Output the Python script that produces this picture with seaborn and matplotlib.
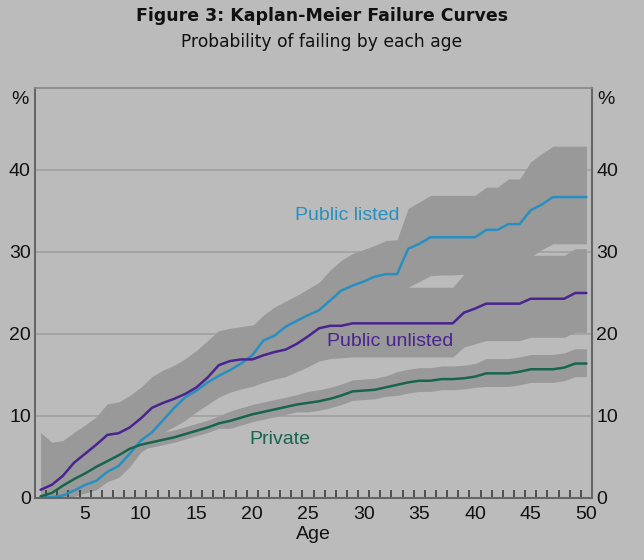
import numpy as np
import pandas as pd
import matplotlib
matplotlib.use("Agg")
import matplotlib.pyplot as plt
from matplotlib.ticker import FixedLocator
import seaborn as sns

ages = list(range(1, 51))

public_listed = [0.0, 0.1, 0.3, 0.9, 1.6, 2.1, 3.2, 3.9, 5.4, 7.0,
                 8.0, 9.5, 11.0, 12.3, 13.1, 14.1, 14.9, 15.6, 16.4, 17.4,
                 19.2, 19.8, 20.9, 21.6, 22.3, 22.9, 24.1, 25.3, 25.9, 26.4,
                 27.0, 27.3, 27.3, 30.4, 31.0, 31.8, 31.8, 31.8, 31.8, 31.8,
                 32.7, 32.7, 33.4, 33.4, 35.1, 35.8, 36.7, 36.7, 36.7, 36.7]
public_listed_hi = [1.0, 1.5, 2.0, 2.8, 3.5, 4.2, 5.5, 6.2, 7.8, 9.3,
                    10.5, 12.0, 13.5, 15.0, 16.0, 17.0, 18.0, 19.2, 20.2, 21.0,
                    22.3, 23.3, 24.0, 24.7, 25.5, 26.3, 27.8, 29.0, 29.8, 30.3,
                    30.8, 31.4, 31.5, 35.3, 36.1, 36.9, 36.9, 36.9, 36.9, 36.9,
                    37.9, 37.9, 38.9, 38.9, 41.0, 42.0, 42.9, 42.9, 42.9, 42.9]
public_listed_lo = [0.0, 0.0, 0.0, 0.2, 0.6, 1.0, 2.0, 2.5, 3.8, 5.6,
                    6.5, 7.8, 9.0, 10.0, 10.8, 11.6, 12.4, 13.3, 14.0, 14.6,
                    16.0, 16.5, 17.4, 18.0, 18.7, 19.2, 20.2, 21.2, 21.7, 22.1,
                    22.6, 22.9, 22.9, 25.7, 26.4, 27.1, 27.2, 27.2, 27.3, 27.3,
                    27.8, 27.8, 28.2, 28.2, 29.4, 30.3, 31.0, 31.0, 31.0, 31.0]

public_unlisted = [1.0, 1.6, 2.7, 4.3, 5.4, 6.5, 7.7, 7.9, 8.6, 9.7,
                   11.0, 11.6, 12.1, 12.7, 13.5, 14.7, 16.2, 16.7, 16.9, 16.9,
                   17.4, 17.8, 18.1, 18.8, 19.7, 20.7, 21.0, 21.0, 21.3, 21.3,
                   21.3, 21.3, 21.3, 21.3, 21.3, 21.3, 21.3, 21.3, 22.6, 23.1,
                   23.7, 23.7, 23.7, 23.7, 24.3, 24.3, 24.3, 24.3, 25.0, 25.0]
public_unlisted_hi = [8.0, 6.8, 7.0, 8.0, 8.9, 9.9, 11.5, 11.7, 12.5, 13.5,
                      14.8, 15.6, 16.2, 17.0, 18.0, 19.2, 20.4, 20.7, 20.9, 21.1,
                      21.5, 22.0, 22.4, 23.1, 24.0, 25.0, 25.4, 25.5, 25.7, 25.7,
                      25.7, 25.7, 25.7, 25.7, 25.7, 25.7, 25.7, 25.7, 27.3, 27.8,
                      28.5, 28.5, 28.5, 28.5, 29.6, 29.6, 29.6, 29.6, 30.4, 30.4]
public_unlisted_lo = [0.0, 0.0, 0.0, 1.0, 2.0, 3.0, 4.0, 4.3, 5.0, 6.0,
                      7.3, 8.0, 8.7, 9.5, 10.5, 11.4, 12.3, 12.9, 13.3, 13.6,
                      14.1, 14.5, 14.8, 15.4, 16.0, 16.7, 17.0, 17.1, 17.2, 17.2,
                      17.2, 17.2, 17.2, 17.2, 17.2, 17.2, 17.2, 17.2, 18.4, 18.8,
                      19.2, 19.2, 19.2, 19.2, 19.6, 19.6, 19.6, 19.6, 20.2, 20.2]

private = [0.2, 0.6, 1.5, 2.3, 3.0, 3.8, 4.5, 5.2, 6.0, 6.5,
           6.8, 7.1, 7.4, 7.8, 8.2, 8.6, 9.1, 9.4, 9.8, 10.2,
           10.5, 10.8, 11.1, 11.4, 11.6, 11.8, 12.1, 12.5, 13.0, 13.1,
           13.2, 13.5, 13.8, 14.1, 14.3, 14.3, 14.5, 14.5, 14.6, 14.8,
           15.2, 15.2, 15.2, 15.4, 15.7, 15.7, 15.7, 15.9, 16.4, 16.4]
private_hi = [0.8, 1.2, 2.1, 2.9, 3.6, 4.5, 5.2, 5.9, 6.7, 7.2,
              7.7, 8.0, 8.3, 8.7, 9.1, 9.5, 10.0, 10.6, 11.0, 11.4,
              11.7, 12.0, 12.3, 12.6, 13.0, 13.2, 13.5, 13.9, 14.4, 14.5,
              14.6, 14.9, 15.4, 15.7, 15.9, 15.9, 16.1, 16.1, 16.2, 16.4,
              17.0, 17.0, 17.0, 17.2, 17.5, 17.5, 17.5, 17.7, 18.2, 18.2]
private_lo = [0.0, 0.3, 1.2, 2.0, 2.7, 3.3, 4.0, 4.7, 5.5, 6.0,
              6.2, 6.5, 6.8, 7.2, 7.6, 8.0, 8.5, 8.5, 8.9, 9.3,
              9.6, 9.9, 10.2, 10.5, 10.5, 10.7, 11.0, 11.4, 11.9, 12.0,
              12.1, 12.4, 12.5, 12.8, 13.0, 13.0, 13.2, 13.2, 13.3, 13.5,
              13.6, 13.6, 13.6, 13.8, 14.1, 14.1, 14.1, 14.3, 14.8, 14.8]

series_names = ["Public listed", "Public unlisted", "Private"]
y_ticks = [0, 10, 20, 30, 40]
x_ticks = [5, 10, 15, 20, 25, 30, 35, 40, 45, 50]

BG = "#bbbbbb"
BAND = "#999999"
colors = {"Public listed": "#2790c0", "Public unlisted": "#4a2490", "Private": "#17654f"}

sns.set_style("ticks", {"axes.axisbelow": False, "xtick.direction": "in",
                        "xtick.bottom": True})
plt.rcParams["font.family"] = ["Liberation Sans", "DejaVu Sans"]

df = pd.DataFrame({
    "Age": ages * 3,
    "Value": public_listed + public_unlisted + private,
    "Series": sum([[n] * len(ages) for n in series_names], []),
})

fig = plt.figure(figsize=(6.44, 5.6), dpi=100, facecolor=BG)
ax = fig.add_axes([35 / 644, 1 - 498 / 560, (592 - 35) / 644, (498 - 88) / 560])
ax.set_facecolor(BG)
ax.set_axisbelow(False)

for lo, hi in [(private_lo, private_hi), (public_unlisted_lo, public_unlisted_hi),
               (public_listed_lo, public_listed_hi)]:
    ax.fill_between(ages, lo, hi, color=BAND, linewidth=0, zorder=1)

sns.lineplot(data=df, x="Age", y="Value", hue="Series", palette=colors,
             linewidth=1.8, ax=ax, legend=False, zorder=3)

for yv in y_ticks[1:]:
    ax.axhline(yv, color="#a2a2a2", linewidth=1.3, zorder=0.5)

ax.set_xlim(0.5, 50.5)
ax.set_ylim(0, 50)
ax.xaxis.set_major_locator(FixedLocator(x_ticks))
ax.xaxis.set_minor_locator(FixedLocator(np.arange(1.5, 50.5, 1.0)))
ax.tick_params(axis="x", which="major", bottom=False, top=False, length=0, labelsize=14,
               pad=6, colors="#111111")
ax.tick_params(axis="x", which="minor", bottom=True, top=False, direction="in", length=6,
               width=1.1, color="#333333")
ax.set_yticks(y_ticks)
ax.tick_params(axis="y", which="major", left=False, right=False, length=0, labelsize=14, pad=3,
               labelleft=True, labelright=True, colors="#111111")
ax.tick_params(axis="y", which="minor", left=False, right=False)
ax.set_xlabel("Age", fontsize=14, color="#111111", labelpad=2)
ax.set_ylabel("")

for side in ["left", "right", "bottom"]:
    ax.spines[side].set_color("#666666")
    ax.spines[side].set_linewidth(1.5)
ax.spines["top"].set_color("#888888")
ax.spines["top"].set_linewidth(1.2)
for s in ax.spines.values():
    s.set_visible(True)
    s.set_zorder(5)

fig.text(20 / 644, 1 - 100 / 560, "%", ha="center", va="center", fontsize=14, color="#111111")
fig.text(606 / 644, 1 - 100 / 560, "%", ha="center", va="center", fontsize=14, color="#111111")

ax.annotate("Public listed", xy=(347 / 644, 1 - 215 / 560), xycoords="figure fraction",
            ha="center", va="center", fontsize=14, color=colors["Public listed"])
ax.annotate("Public unlisted", xy=(390 / 644, 1 - 342 / 560), xycoords="figure fraction",
            ha="center", va="center", fontsize=14, color=colors["Public unlisted"])
ax.annotate("Private", xy=(280 / 644, 1 - 439 / 560), xycoords="figure fraction",
            ha="center", va="center", fontsize=14, color=colors["Private"])

fig.text(0.5, 1 - 16 / 560, "Figure 3: Kaplan-Meier Failure Curves", ha="center", va="center",
         fontsize=12.5, fontweight="bold", color="#111111", family=["DejaVu Sans"])
fig.text(0.5, 1 - 42 / 560, "Probability of failing by each age", ha="center", va="center",
         fontsize=12.3, color="#111111", family=["DejaVu Sans"])

fig.savefig("out.png", dpi=100, facecolor=BG)
